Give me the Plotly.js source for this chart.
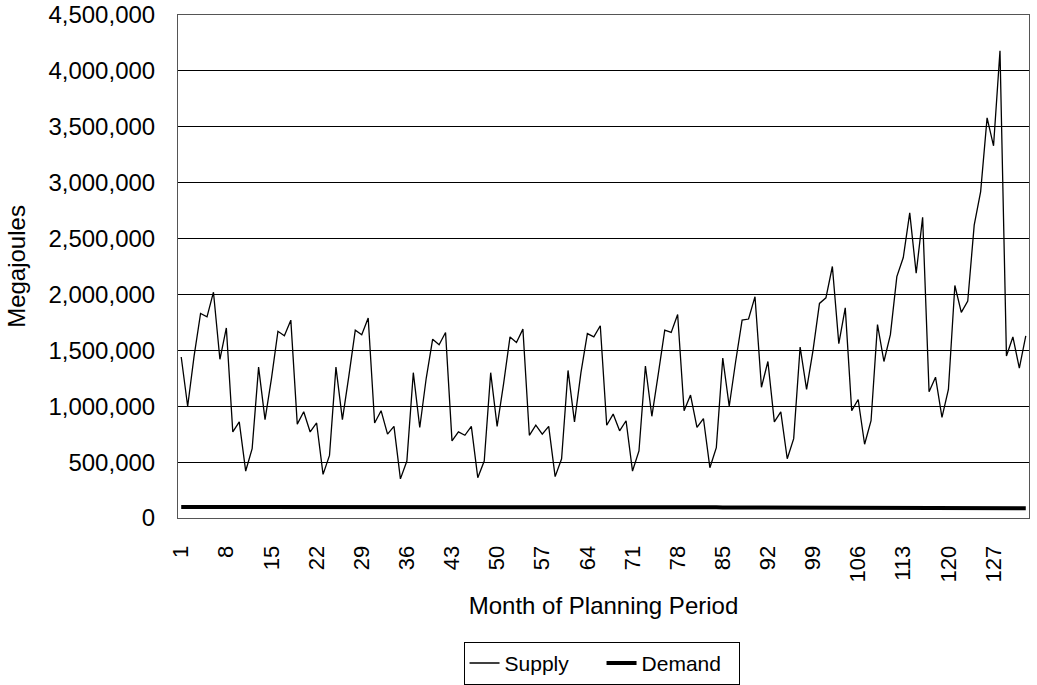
<!DOCTYPE html>
<html>
<head>
<meta charset="utf-8">
<script src="https://cdn.plot.ly/plotly-3.0.1.min.js"></script>
<style>html,body{margin:0;padding:0;background:#fff;}#chart{width:1037px;height:685px;}</style>
</head>
<body>
<div id="chart"></div>
<script>
// Month of planning period (1..132)
var months = [
  1,2,3,4,5,6,7,8,9,10,11,12,
  13,14,15,16,17,18,19,20,21,22,23,24,
  25,26,27,28,29,30,31,32,33,34,35,36,
  37,38,39,40,41,42,43,44,45,46,47,48,
  49,50,51,52,53,54,55,56,57,58,59,60,
  61,62,63,64,65,66,67,68,69,70,71,72,
  73,74,75,76,77,78,79,80,81,82,83,84,
  85,86,87,88,89,90,91,92,93,94,95,96,
  97,98,99,100,101,102,103,104,105,106,107,108,
  109,110,111,112,113,114,115,116,117,118,119,120,
  121,122,123,124,125,126,127,128,129,130,131,132
];

// Supply (Megajoules)
var supply = [
  1440000,1000000,1450000,1830000,1800000,2020000,1420000,1700000,770000,860000,420000,620000,
  1350000,880000,1250000,1670000,1630000,1770000,840000,950000,770000,850000,390000,560000,
  1350000,880000,1270000,1680000,1640000,1790000,850000,960000,750000,820000,350000,510000,
  1300000,810000,1250000,1600000,1550000,1660000,690000,770000,740000,820000,360000,510000,
  1300000,820000,1200000,1620000,1570000,1690000,740000,830000,750000,820000,370000,530000,
  1320000,860000,1300000,1650000,1620000,1720000,830000,930000,780000,870000,420000,600000,
  1360000,910000,1290000,1680000,1660000,1820000,960000,1100000,810000,890000,450000,630000,
  1430000,1000000,1400000,1770000,1780000,1980000,1170000,1400000,860000,950000,530000,710000,
  1530000,1150000,1500000,1920000,1970000,2250000,1560000,1880000,960000,1060000,660000,870000,
  1730000,1400000,1640000,2160000,2330000,2730000,2190000,2690000,1130000,1260000,900000,1150000,
  2080000,1840000,1940000,2620000,2920000,3580000,3330000,4180000,1450000,1620000,1340000,1630000
];

// Demand (Megajoules)
var demand = [
  98000,98000,98000,98000,98000,98000,98000,98000,98000,98000,98000,98000,
  98000,98000,98000,98000,98000,98000,98000,98000,98000,104000,104000,104000,
  104000,104000,104000,104000,104000,104000,104000,104000,104000,104000,104000,104000,
  102000,102000,102000,102000,102000,102000,102000,102000,102000,102000,102000,102000,
  100000,100000,100000,100000,100000,100000,100000,100000,100000,100000,100000,100000,
  98000,98000,98000,98000,98000,98000,98000,98000,98000,98000,98000,98000,
  96000,96000,96000,96000,96000,96000,96000,96000,96000,96000,96000,96000,
  94000,94000,94000,94000,94000,94000,94000,94000,94000,94000,94000,94000,
  92000,92000,92000,92000,92000,92000,96000,96000,96000,96000,96000,96000,
  94000,94000,94000,94000,94000,94000,92000,92000,92000,92000,92000,92000,
  90000,90000,90000,90000,90000,90000,88000,88000,88000,88000,88000,88000
];

var tickMonths = [1,8,15,22,29,36,43,50,57,64,71,78,85,92,99,106,113,120,127];
var yTicks = [0,500000,1000000,1500000,2000000,2500000,3000000,3500000,4000000,4500000];
var yTickText = ["0","500,000","1,000,000","1,500,000","2,000,000","2,500,000","3,000,000","3,500,000","4,000,000","4,500,000"];

var font = "Liberation Sans, Arial, sans-serif";

var traces = [
  {x: months, y: supply, name: "Supply", type: "scatter", mode: "lines",
   line: {color: "#000", width: 1.3}},
  {x: months, y: demand, name: "Demand", type: "scatter", mode: "lines",
   line: {color: "#000", width: 4}}
];

var layout = {
  width: 1037, height: 685,
  margin: {l: 178, r: 8, t: 15, b: 167},
  paper_bgcolor: "#fff", plot_bgcolor: "#fff",
  font: {family: font, size: 22, color: "#000"},
  showlegend: true,
  legend: {orientation: "h", xref: "container", yref: "container",
           x: 0.447, xanchor: "left", y: 0.063, yanchor: "top",
           bordercolor: "#000", borderwidth: 1, font: {family: font, size: 21, color: "#000"},
           itemwidth: 30, entrywidth: 92, entrywidthmode: "pixels", tracegroupgap: 0},
  xaxis: {
    automargin: false,
    range: [0.5, 132.5], tickmode: "array", tickvals: tickMonths,
    ticktext: tickMonths.map(String), tickangle: -90,
    showgrid: false, zeroline: false, showline: true, mirror: true,
    linecolor: "#555", linewidth: 1, ticks: "", ticklabelstandoff: 18,
    tickfont: {family: font, size: 22, color: "#000"},
    title: {text: "Month of Planning Period", font: {family: font, size: 24, color: "#000"}, standoff: 15}
  },
  yaxis: {
    automargin: false,
    range: [0, 4500000], tickmode: "array", tickvals: yTicks, ticktext: yTickText,
    showgrid: true, gridcolor: "#000", gridwidth: 1, zeroline: false,
    showline: true, mirror: true, linecolor: "#555", linewidth: 1, ticks: "",
    ticklabelstandoff: 17,
    tickfont: {family: font, size: 24, color: "#000"},
    title: {text: "Megajoules", font: {family: font, size: 24, color: "#000"}, standoff: 16}
  }
};

Plotly.newPlot("chart", traces, layout, {displayModeBar: false, staticPlot: true});
</script>
</body>
</html>
